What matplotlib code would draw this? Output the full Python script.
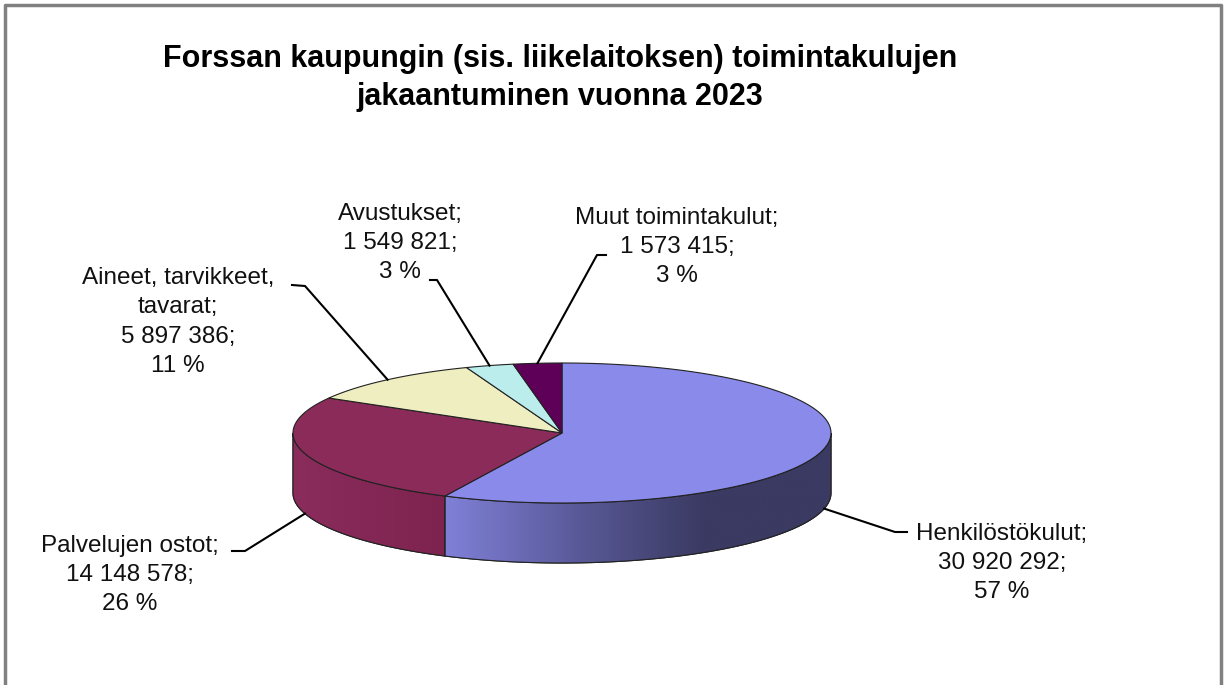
import numpy as np
import matplotlib.pyplot as plt
from matplotlib.patches import Polygon
from matplotlib.colors import LinearSegmentedColormap

# Data
names = ["Henkilöstökulut", "Palvelujen ostot", "Aineet, tarvikkeet,\ntavarat",
         "Avustukset", "Muut toimintakulut"]
values = [30920292, 14148578, 5897386, 1549821, 1573415]
pcts = [57, 26, 11, 3, 3]
top_colors = ["#8a8aeb", "#8b2b5a", "#eeeec0", "#bbeded", "#5e0058"]
side_colors = ["#7d7ed6", "#852656", "#d6d6a8", "#a5d5d5", "#4a0046"]

title = "Forssan kaupungin (sis. liikelaitoksen) toimintakulujen\njakaantuminen vuonna 2023"

# Layout (pixels)
W, H = 1225, 685
cx, cy, rx, ry, depth = 562, 433, 269, 70, 60
# label text centre, elbow point, stub end
label_pos = [(1002, 563), (130, 575), (178, 322), (400, 243), (677, 247)]
elbows = [((895, 532), (907, 532)), ((245, 551), (232, 551)),
          ((305, 286), (292, 285)), ((437, 280), (430, 280)),
          ((597, 255), (606, 255))]

plt.rcParams['font.family'] = ['Liberation Sans', 'DejaVu Sans']
fig = plt.figure(figsize=(W / 100, H / 100), dpi=100)
ax = fig.add_axes([0, 0, 1, 1])
ax.set_xlim(0, W)
ax.set_ylim(H, 0)
ax.axis('off')

# frame (bottom edge cut off in the reference)
ax.plot([5, 5, 1221, 1221], [H, 5, 5, H], color="#808080", lw=2.5)


def ell(t, dy=0):
    t = np.radians(t)
    return cx + rx * np.cos(t), cy - ry * np.sin(t) + dy


total = sum(values)
angles = [90]
for v in values:
    angles.append(angles[-1] - v / total * 360)

# side walls (only the front half is visible)
for i in range(len(values)):
    a0, a1 = angles[i], angles[i + 1]
    lo, hi = max(a1, -180), min(a0, 0)
    if lo >= hi:
        continue
    t = np.linspace(hi, lo, 100)
    xt, yt = ell(t)
    xb, yb = ell(t[::-1], depth)
    pts = np.column_stack([np.r_[xt, xb], np.r_[yt, yb]])
    poly = Polygon(pts, closed=True, facecolor=side_colors[i],
                   edgecolor="#222222", lw=0.8, zorder=2)
    ax.add_patch(poly)
    if i == 0:
        cmap = LinearSegmentedColormap.from_list(
            "side", ["#8080d8", "#5a5a9a", "#3a3a62", "#3a3a62"])
        x0, x1 = xt.min(), cx + rx
    else:
        cmap = LinearSegmentedColormap.from_list("side2", ["#8a2c5c", "#7e2350"])
        x0, x1 = cx - rx, xt.max()
    grad = np.linspace(0, 1, 256)[None, :]
    im = ax.imshow(grad, cmap=cmap, aspect='auto',
                   extent=[x0, x1, cy + ry + depth + 2, cy - 5], zorder=2.1)
    im.set_clip_path(poly)
    ax.add_patch(Polygon(pts, closed=True, facecolor="none",
                         edgecolor="#222222", lw=0.8, zorder=2.2))

# top faces
for i in range(len(values)):
    t = np.linspace(angles[i], angles[i + 1], 150)
    xs, ys = ell(t)
    pts = np.column_stack([np.r_[cx, xs], np.r_[cy, ys]])
    ax.add_patch(Polygon(pts, closed=True, facecolor=top_colors[i],
                         edgecolor="#222222", lw=0.8, zorder=3))

# labels with leader lines
for i in range(len(values)):
    mid = (angles[i] + angles[i + 1]) / 2
    sx, sy = ell(mid, depth if np.sin(np.radians(mid)) < 0 else 0)
    (ex, ey), (fx, fy) = elbows[i]
    ax.plot([sx, ex, fx], [sy, ey, fy], color="black", lw=1.5, zorder=4)
    val = f"{values[i]:,}".replace(",", " ")
    txt = f"{names[i]};\n{val};\n{pcts[i]} %"
    lx, ly = label_pos[i]
    ax.text(lx, ly, txt, ha="center", va="center", fontsize=17.5,
            linespacing=1.43, color="#111111", zorder=5)

ax.text(560, 78, title, ha="center", va="center", fontsize=22,
        fontweight="bold", linespacing=1.33, color="black")

fig.savefig("out.png", dpi=100)
